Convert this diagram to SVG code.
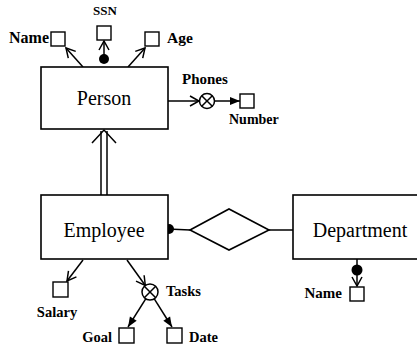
<svg xmlns="http://www.w3.org/2000/svg" width="417" height="351" viewBox="0 0 417 351">
<style>
.box{fill:#fff;stroke:#000;stroke-width:1.6}
.sq{fill:#fff;stroke:#000;stroke-width:1.4}
.ln{fill:none;stroke:#000;stroke-width:1.5}
.dot{fill:#000}
.big{font-family:"Liberation Serif","Times New Roman",serif;font-size:20px;fill:#000}
.lbl{font-family:"Liberation Serif","Times New Roman",serif;font-size:15px;font-weight:bold;fill:#000}
</style>
<defs>
<marker id="open" markerUnits="userSpaceOnUse" markerWidth="12" markerHeight="12" refX="10" refY="6" orient="auto" overflow="visible">
<path d="M1,1 L10,6 L1,11" fill="none" stroke="#000" stroke-width="1.5"/>
</marker>
<marker id="fill" markerUnits="userSpaceOnUse" markerWidth="11" markerHeight="8" refX="10" refY="4" orient="auto" overflow="visible">
<path d="M0,0 L10,4 L0,8 z" fill="#000"/>
</marker>
</defs>
<g id="connectors">
<line class="ln" x1="83" y1="67" x2="66" y2="48" marker-end="url(#open)"/>
<line class="ln" x1="104" y1="59" x2="104" y2="41" marker-end="url(#open)"/>
<line class="ln" x1="128" y1="67" x2="145" y2="48" marker-end="url(#open)"/>
<line class="ln" x1="168" y1="101" x2="199" y2="101" marker-end="url(#open)"/>
<line class="ln" x1="214" y1="101" x2="240" y2="101" marker-end="url(#fill)"/>
<line class="ln" x1="101" y1="195" x2="101" y2="131"/>
<line class="ln" x1="107" y1="195" x2="107" y2="131"/>
<polyline class="ln" points="92,143 104,130 116,143"/>
<line class="ln" x1="168" y1="229" x2="190" y2="230"/>
<line class="ln" x1="269" y1="230" x2="293" y2="230"/>
<line class="ln" x1="83" y1="260" x2="67" y2="281" marker-end="url(#open)"/>
<line class="ln" x1="127" y1="260" x2="145.3" y2="285.5" marker-end="url(#open)"/>
<line class="ln" x1="145.7" y1="298.8" x2="128" y2="327" marker-end="url(#fill)"/>
<line class="ln" x1="154.3" y1="298.8" x2="172" y2="327" marker-end="url(#fill)"/>
<line class="ln" x1="357" y1="259" x2="357" y2="270"/>
<line class="ln" x1="357" y1="270" x2="357" y2="286" marker-end="url(#open)"/>
<circle class="dot" cx="104" cy="59" r="5"/>
<circle class="dot" cx="169" cy="229" r="5"/>
<circle class="dot" cx="357" cy="270" r="5.5"/>
</g>
<g id="person">
<rect class="box" x="41" y="67" width="127" height="62"/>
<text class="big" x="104" y="105" text-anchor="middle">Person</text>
</g>
<g id="person-name">
<rect class="sq" x="51" y="32" width="14" height="14"/>
<text class="lbl" x="49" y="43" text-anchor="end" style="font-size:16px">Name</text>
</g>
<g id="person-ssn">
<rect class="sq" x="97" y="26" width="14" height="14"/>
<text class="lbl" x="105" y="15" text-anchor="middle" style="font-size:13px">SSN</text>
</g>
<g id="person-age">
<rect class="sq" x="145" y="32" width="14" height="14"/>
<text class="lbl" x="167" y="43" style="font-size:15.5px">Age</text>
</g>
<g id="phones">
<circle cx="207" cy="101" r="7.5" fill="#fff" stroke="#000" stroke-width="1.5"/>
<line class="ln" x1="201.7" y1="95.7" x2="212.3" y2="106.3"/>
<line class="ln" x1="212.3" y1="95.7" x2="201.7" y2="106.3"/>
<text class="lbl" x="182" y="84">Phones</text>
</g>
<g id="number">
<rect class="sq" x="240" y="94" width="14" height="14"/>
<text class="lbl" x="229" y="124" style="font-size:14px">Number</text>
</g>
<g id="employee">
<rect class="box" x="41" y="195" width="127" height="64"/>
<text class="big" x="104" y="237" text-anchor="middle">Employee</text>
</g>
<g id="salary">
<rect class="sq" x="53" y="282" width="15" height="15"/>
<text class="lbl" x="57" y="317" text-anchor="middle" style="font-size:14.5px">Salary</text>
</g>
<g id="tasks">
<circle cx="150" cy="292" r="8" fill="#fff" stroke="#000" stroke-width="1.5"/>
<line class="ln" x1="144.3" y1="286.3" x2="155.7" y2="297.7"/>
<line class="ln" x1="155.7" y1="286.3" x2="144.3" y2="297.7"/>
<text class="lbl" x="166" y="296" style="font-size:14.5px">Tasks</text>
</g>
<g id="goal">
<rect class="sq" x="119" y="328" width="15" height="15"/>
<text class="lbl" x="112" y="342" text-anchor="end" style="font-size:14.5px">Goal</text>
</g>
<g id="date">
<rect class="sq" x="167" y="328" width="15" height="15"/>
<text class="lbl" x="189" y="342" style="font-size:14.5px">Date</text>
</g>
<g id="works-in">
<polygon points="190,230 229,209 269,230 229,250" fill="#fff" stroke="#000" stroke-width="1.6"/>
</g>
<g id="department">
<rect class="box" x="293" y="195" width="130" height="64"/>
<text class="big" x="360" y="237" text-anchor="middle">Department</text>
</g>
<g id="dept-name">
<rect class="sq" x="350" y="287" width="14" height="14"/>
<text class="lbl" x="342" y="298" text-anchor="end">Name</text>
</g>
</svg>
